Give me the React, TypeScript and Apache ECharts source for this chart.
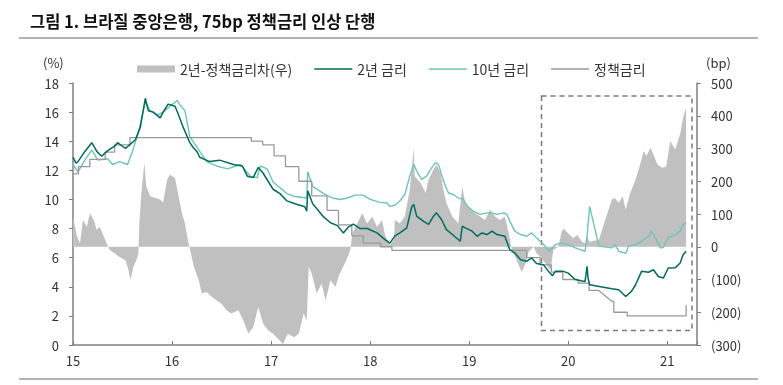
import React, { useEffect, useRef } from 'react';
import * as echarts from 'echarts';

const FONT = '"Noto Sans CJK KR", "Noto Sans", sans-serif';

const TITLE = '그림 1. 브라질 중앙은행, 75bp 정책금리 인상 단행';
const SERIES_NAMES = ['2년-정책금리차(우)', '2년 금리', '10년 금리', '정책금리'];
const X_TICKS = [15, 16, 17, 18, 19, 20, 21];

// [decimal year (15 = 2015), %]
const twoYear: [number, number][] = [
  [15.0, 12.9], [15.03, 12.5], [15.05, 12.6], [15.12, 13.3], [15.19, 13.9], [15.24, 13.3], [15.29, 12.97],
  [15.34, 13.3], [15.42, 13.66], [15.45, 13.9], [15.53, 13.5], [15.58, 13.8], [15.63, 14.1], [15.68, 14.97],
  [15.73, 16.95], [15.76, 16.1], [15.81, 16.0], [15.88, 15.6], [15.91, 16.0], [15.96, 16.55], [16.03, 16.4],
  [16.06, 15.9], [16.11, 15.0], [16.18, 13.9], [16.21, 13.6], [16.25, 13.3], [16.28, 12.9], [16.38, 12.6],
  [16.48, 12.7], [16.62, 12.4], [16.71, 12.3], [16.76, 11.6], [16.82, 11.5], [16.87, 12.2], [16.92, 11.8],
  [17.02, 10.7], [17.09, 10.4], [17.16, 9.9], [17.24, 9.7], [17.34, 9.5], [17.36, 9.2], [17.37, 10.6],
  [17.42, 9.7], [17.53, 8.8], [17.6, 8.4], [17.67, 8.2], [17.73, 7.7], [17.78, 8.1], [17.83, 8.3],
  [17.9, 8.0], [17.97, 8.0], [18.07, 7.7], [18.15, 7.24], [18.2, 7.0], [18.25, 7.5], [18.3, 7.7],
  [18.37, 8.05], [18.42, 9.5], [18.44, 9.66], [18.47, 8.85], [18.54, 8.5], [18.59, 8.28], [18.64, 8.85],
  [18.67, 9.08], [18.72, 8.62], [18.77, 7.93], [18.83, 7.59], [18.91, 7.13], [18.93, 8.16], [18.96, 8.05],
  [19.03, 7.82], [19.08, 7.47], [19.13, 7.7], [19.18, 7.59], [19.23, 7.82], [19.28, 7.59], [19.36, 7.47],
  [19.41, 6.55], [19.46, 6.32], [19.52, 5.86], [19.58, 5.75], [19.63, 5.98], [19.68, 5.6], [19.75, 5.52],
  [19.8, 5.06], [19.84, 4.75], [19.87, 5.06], [19.95, 5.06], [20.0, 4.94], [20.07, 4.5], [20.14, 4.4],
  [20.17, 4.37], [20.19, 5.4], [20.2, 4.6], [20.216, 4.14], [20.44, 3.87], [20.51, 3.8], [20.58, 3.33],
  [20.64, 3.7], [20.68, 4.14], [20.74, 5.06], [20.81, 5.0], [20.86, 5.17], [20.91, 4.71], [20.96, 4.6],
  [21.01, 5.29], [21.08, 5.3], [21.13, 5.63], [21.16, 6.2], [21.19, 6.44],
];

const tenYear: [number, number][] = [
  [15.0, 12.4], [15.05, 11.9], [15.12, 12.7], [15.19, 13.4], [15.25, 12.7], [15.35, 12.8], [15.4, 12.4],
  [15.47, 12.6], [15.55, 12.4], [15.6, 13.3], [15.66, 14.6], [15.73, 16.7], [15.78, 16.1], [15.85, 15.8],
  [15.91, 16.0], [15.98, 16.4], [16.05, 16.8], [16.08, 16.5], [16.13, 16.1], [16.18, 14.3], [16.21, 14.0],
  [16.28, 13.3], [16.35, 12.6], [16.45, 12.3], [16.56, 12.1], [16.69, 12.4], [16.79, 11.6], [16.86, 11.5],
  [16.89, 12.3], [16.96, 12.1], [17.02, 11.2], [17.16, 10.4], [17.24, 10.2], [17.36, 10.1], [17.37, 11.9],
  [17.42, 10.9], [17.53, 10.4], [17.62, 10.1], [17.7, 10.0], [17.77, 10.1], [17.85, 10.3], [17.93, 10.3],
  [18.0, 10.0], [18.1, 9.8], [18.17, 9.76], [18.2, 9.52], [18.25, 9.6], [18.3, 9.89], [18.35, 10.34],
  [18.4, 11.6], [18.44, 12.41], [18.47, 11.95], [18.52, 11.38], [18.57, 11.6], [18.61, 12.07], [18.66, 12.53],
  [18.69, 12.41], [18.72, 11.72], [18.76, 10.92], [18.79, 10.46], [18.84, 10.34], [18.89, 10.11], [18.94, 10.0],
  [18.98, 9.54], [19.04, 9.2], [19.11, 8.97], [19.18, 9.08], [19.23, 9.08], [19.28, 8.97], [19.35, 9.08],
  [19.38, 8.97], [19.41, 8.51], [19.46, 7.82], [19.52, 7.59], [19.58, 7.47], [19.63, 7.7], [19.68, 7.36],
  [19.75, 6.9], [19.81, 6.44], [19.87, 6.9], [19.92, 7.0], [20.0, 6.9], [20.07, 6.67], [20.14, 6.5],
  [20.17, 6.44], [20.19, 7.5], [20.216, 9.52], [20.31, 6.79], [20.44, 6.67], [20.47, 6.9], [20.51, 6.44],
  [20.58, 6.3], [20.61, 6.8], [20.68, 6.9], [20.74, 7.13], [20.81, 7.47], [20.84, 7.82], [20.88, 7.36],
  [20.93, 6.67], [20.96, 6.7], [21.01, 7.36], [21.08, 7.59], [21.13, 7.82], [21.16, 8.28], [21.19, 8.39],
];

// 2y minus policy rate, bp (right axis)
const spread: [number, number][] = [
  [15.0, 93], [15.04, 32], [15.07, 11], [15.1, 82], [15.14, 61], [15.17, 102], [15.21, 82], [15.24, 51],
  [15.27, 61], [15.31, 32], [15.34, 11], [15.37, -10], [15.42, -20], [15.47, -31], [15.53, -41], [15.56, -72],
  [15.58, -102], [15.61, -61], [15.64, -41], [15.66, -20], [15.67, 71], [15.69, 164], [15.72, 256], [15.74, 185],
  [15.78, 154], [15.83, 149], [15.88, 144], [15.91, 134], [15.95, 205], [15.98, 220], [16.03, 210], [16.06, 164],
  [16.1, 102], [16.13, 71], [16.16, 20], [16.19, -20], [16.22, -61], [16.27, -102], [16.3, -143], [16.35, -138],
  [16.4, -153], [16.45, -164], [16.5, -174], [16.55, -194], [16.6, -204], [16.67, -194], [16.72, -225],
  [16.77, -266], [16.82, -245], [16.87, -184], [16.92, -235], [16.97, -255], [17.02, -266], [17.07, -281],
  [17.12, -297], [17.17, -266], [17.23, -276], [17.28, -266], [17.33, -204], [17.36, -225], [17.38, -61],
  [17.41, -82], [17.46, -143], [17.51, -112], [17.55, -164], [17.6, -102], [17.65, -123], [17.68, -92],
  [17.71, -72], [17.76, -41], [17.8, -10], [17.82, 41], [17.87, 71], [17.92, 102], [17.97, 71], [18.02, 92],
  [18.07, 61], [18.12, 82], [18.15, 35], [18.2, 5], [18.24, 21], [18.25, 82], [18.3, 71], [18.35, 92],
  [18.4, 174], [18.44, 300], [18.45, 215], [18.51, 195], [18.56, 164], [18.59, 205], [18.64, 236], [18.67, 251],
  [18.71, 225], [18.74, 174], [18.77, 133], [18.83, 92], [18.89, 71], [18.93, 184], [18.96, 133], [19.01, 113],
  [19.06, 102], [19.11, 92], [19.16, 82], [19.21, 113], [19.26, 92], [19.31, 82], [19.36, 92], [19.4, 41],
  [19.43, -10], [19.48, -41], [19.53, -77], [19.57, -51], [19.6, -15], [19.65, 0], [19.68, -20], [19.72, -31],
  [19.77, -51], [19.82, -72], [19.85, -10], [19.9, 0], [19.93, 41], [19.95, 56], [20.0, 41], [20.05, 26],
  [20.09, 36], [20.14, 15], [20.17, 10], [20.19, 31], [20.216, 15], [20.31, 21], [20.44, 144], [20.47, 149],
  [20.51, 134], [20.55, 154], [20.58, 113], [20.62, 159], [20.68, 205], [20.73, 256], [20.76, 292], [20.79, 277],
  [20.83, 303], [20.86, 282], [20.9, 251], [20.95, 241], [20.99, 246], [21.03, 323], [21.08, 297], [21.13, 344],
  [21.16, 395], [21.19, 425],
];

// policy (Selic) changes: [decimal year, rate, ramp flag (1 = straight segment, data gap)]
const policyChanges: [number, number, number?][] = [
  [15.0, 11.75], [15.055, 12.25], [15.17, 12.75], [15.325, 13.25], [15.42, 13.75], [15.575, 14.25],
  [16.8, 14.0], [16.915, 13.75], [17.03, 13.0], [17.145, 12.25], [17.28, 11.25], [17.41, 10.25],
  [17.565, 9.25], [17.68, 8.25], [17.815, 7.5], [17.93, 7.0], [18.105, 6.75], [18.22, 6.5],
  [19.58, 6.0], [19.715, 5.5], [19.83, 5.0], [19.945, 4.5], [20.1, 4.25], [20.21, 3.75],
  [20.306, 3.75], [20.44, 3.0, 1], [20.46, 2.25], [20.595, 2.0], [21.19, 2.0], [21.19, 2.75],
];

// highlighted window (decimal year, % on left axis)
const boxFrom: [number, number] = [19.73, 17.1];
const boxTo: [number, number] = [21.25, 1.0];

function buildPolicy(): [number, number][] {
  const out: [number, number][] = [];
  policyChanges.forEach(([t, v, ramp], i) => {
    if (i === 0 || ramp) {
      out.push([t, v]);
    } else {
      const prev = out[out.length - 1][1];
      out.push([t, prev]);
      out.push([t, v]);
    }
  });
  return out;
}

const LINE_ICON = 'path://M0,0 L38,0 L38,1.5 L0,1.5 Z';

export default function App() {
  const ref = useRef<HTMLDivElement>(null);
  useEffect(() => {
    const chart = echarts.init(ref.current!, null, { renderer: 'svg' });
    const axisColor = '#808080';
    const labelStyle = { color: '#333', fontSize: 13, fontFamily: FONT };
    chart.setOption({
      animation: false,
      textStyle: { fontFamily: FONT },
      title: {
        text: TITLE,
        left: 25,
        top: 8,
        textStyle: { fontSize: 16.5, fontWeight: 'bold', color: '#111', fontFamily: FONT },
      },
      legend: {
        left: 137,
        top: 62,
        padding: 0,
        itemWidth: 38,
        itemHeight: 7,
        itemGap: 22,
        textStyle: { color: '#333', fontSize: 14, fontFamily: FONT },
        data: [
          { name: SERIES_NAMES[0], icon: 'rect' },
          { name: SERIES_NAMES[1], icon: LINE_ICON },
          { name: SERIES_NAMES[2], icon: LINE_ICON },
          { name: SERIES_NAMES[3], icon: LINE_ICON },
        ],
      },
      grid: { left: 73, right: 86, top: 83, bottom: 40 },
      xAxis: {
        type: 'value',
        min: 15,
        max: 21.3,
        interval: 1,
        axisLine: { onZero: false, lineStyle: { color: axisColor, width: 1.5 } },
        axisTick: { inside: true, length: 4, lineStyle: { color: axisColor } },
        splitLine: { show: false },
        axisLabel: {
          ...labelStyle,
          margin: 9,
          formatter: (v: number) => (X_TICKS.includes(Math.round(v * 1000) / 1000) ? String(v) : ''),
        },
      },
      yAxis: [
        {
          type: 'value',
          min: 0,
          max: 18,
          interval: 2,
          axisLine: { show: true, lineStyle: { color: axisColor, width: 1.5 } },
          axisTick: { show: true, length: 4, lineStyle: { color: axisColor } },
          splitLine: { show: false },
          axisLabel: { ...labelStyle, margin: 14 },
        },
        {
          type: 'value',
          position: 'right',
          min: -300,
          max: 500,
          interval: 100,
          axisLine: { show: true, lineStyle: { color: axisColor, width: 1.5 } },
          axisTick: { show: true, length: 4, lineStyle: { color: axisColor } },
          splitLine: { show: false },
          axisLabel: {
            ...labelStyle,
            margin: 14,
            formatter: (v: number) => (v < 0 ? `(${-v})` : `${v}`),
          },
        },
      ],
      graphic: [
        { type: 'line', shape: { x1: 19, y1: 38, x2: 758, y2: 38 }, style: { stroke: '#9a9a9a', lineWidth: 1.5 } },
        { type: 'line', shape: { x1: 19, y1: 379, x2: 758, y2: 379 }, style: { stroke: '#9a9a9a', lineWidth: 1.5 } },
        { type: 'text', x: 43, y: 62, style: { text: '(%)', fill: '#333', fontSize: 13, fontFamily: FONT, verticalAlign: 'middle' } },
        { type: 'text', x: 706, y: 62, style: { text: '(bp)', fill: '#333', fontSize: 13, fontFamily: FONT, verticalAlign: 'middle' } },
      ],
      series: [
        {
          name: SERIES_NAMES[0],
          type: 'line',
          yAxisIndex: 1,
          data: spread,
          symbol: 'none',
          itemStyle: { color: '#c0c0c0' },
          lineStyle: { width: 0, color: '#c0c0c0' },
          areaStyle: { color: '#c0c0c0', opacity: 1, origin: 0 },
          z: 1,
        },
        {
          name: SERIES_NAMES[1],
          type: 'line',
          data: twoYear,
          symbol: 'none',
          itemStyle: { color: '#006b5e' },
          lineStyle: { width: 1.5, color: '#006b5e' },
          z: 3,
        },
        {
          name: SERIES_NAMES[2],
          type: 'line',
          data: tenYear,
          symbol: 'none',
          itemStyle: { color: '#6cc5b7' },
          lineStyle: { width: 1.4, color: '#6cc5b7' },
          z: 2,
        },
        {
          name: SERIES_NAMES[3],
          type: 'line',
          data: buildPolicy(),
          symbol: 'none',
          itemStyle: { color: '#9a9a9a' },
          lineStyle: { width: 1.3, color: '#9a9a9a' },
          z: 2,
          markArea: {
            silent: true,
            itemStyle: {
              color: 'rgba(0,0,0,0)',
              borderColor: '#7a7a7a',
              borderWidth: 1.5,
              borderType: [5, 4],
            },
            data: [[{ coord: boxFrom }, { coord: boxTo }]],
          },
        },
      ],
    });
    return () => chart.dispose();
  }, []);
  return <div ref={ref} style={{ position: 'fixed', left: 0, top: 0, width: 783, height: 385 }} />;
}
